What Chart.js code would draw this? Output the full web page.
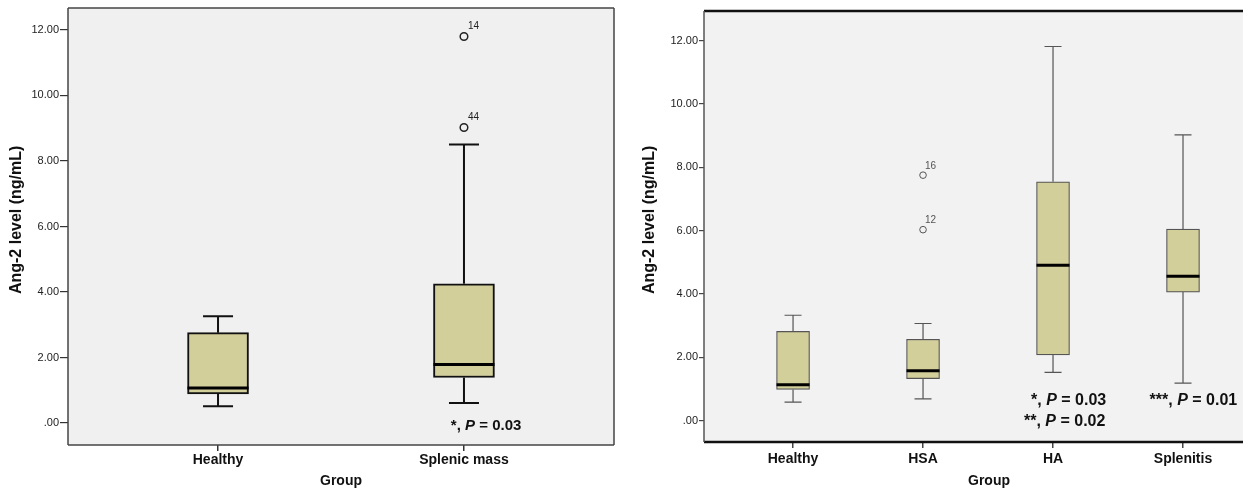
<!DOCTYPE html>
<html>
<head>
<meta charset="utf-8">
<script src="https://cdn.jsdelivr.net/npm/chart.js@4.4.0/dist/chart.umd.min.js"></script>
<style>
  html, body { margin: 0; padding: 0; background: #fff; overflow: hidden; width: 1243px; height: 492px; }
  canvas { position: absolute; top: 0; }
  #left { left: 0; }
  #right { left: 625px; }
</style>
</head>
<body>
<canvas id="left" width="625" height="492"></canvas>
<canvas id="right" width="660" height="492"></canvas>
<script>
/* global Chart */

// ---- data ----
var yTicks = [0, 2, 4, 6, 8, 10, 12];

var leftGroups = ["Healthy", "Splenic mass"];
var leftMin = [0.51, 0.61];
var leftQ1 = [0.89, 1.39];
var leftMedian = [1.07, 1.79];
var leftQ3 = [2.76, 4.25];
var leftMax = [3.26, 8.50];
var leftOutlierGroup = [2, 2];
var leftOutlierValue = [11.80, 9.02];
var leftOutlierLabel = ["14", "44"];

var rightGroups = ["Healthy", "HSA", "HA", "Splenitis"];
var rightMin = [0.59, 0.69, 1.53, 1.19];
var rightQ1 = [0.99, 1.33, 2.08, 4.06];
var rightMedian = [1.14, 1.58, 4.91, 4.56];
var rightQ3 = [2.82, 2.57, 7.54, 6.05];
var rightMax = [3.33, 3.07, 11.81, 9.02];
var rightOutlierGroup = [2, 2];
var rightOutlierValue = [7.75, 6.03];
var rightOutlierLabel = ["16", "12"];

var leftStars = ["*"];
var leftP = ["0.03"];
var rightStars = ["*", "**", "***"];
var rightP = ["0.03", "0.02", "0.01"];

var FONT = "'Liberation Sans', Arial, Helvetica, sans-serif";
var BOX_FILL = "#d3cf9b";

function fmtTick(v) {
  return v === 0 ? ".00" : Number(v).toFixed(2);
}

function makeExtras(p) {
  return {
    id: "boxExtras",
    beforeDraw: function (chart) {
      var a = chart.chartArea, ctx = chart.ctx;
      ctx.save();
      ctx.fillStyle = p.bg;
      ctx.fillRect(a.left, a.top, a.right - a.left, a.bottom - a.top);
      ctx.restore();
    },
    beforeDatasetsDraw: function (chart) {
      var ctx = chart.ctx, xs = chart.scales.x, ys = chart.scales.y;
      ctx.save();
      ctx.strokeStyle = p.line;
      ctx.lineWidth = p.lineW;
      for (var i = 0; i < p.groups.length; i++) {
        var cx = xs.getPixelForValue(i + 1);
        var pairs = [[p.max[i], p.q3[i]], [p.min[i], p.q1[i]]];
        for (var k = 0; k < 2; k++) {
          var yEnd = ys.getPixelForValue(pairs[k][0]);
          var yBox = ys.getPixelForValue(pairs[k][1]);
          ctx.beginPath();
          ctx.moveTo(cx, yBox);
          ctx.lineTo(cx, yEnd);
          ctx.moveTo(cx - p.capW / 2, yEnd);
          ctx.lineTo(cx + p.capW / 2, yEnd);
          ctx.stroke();
        }
      }
      ctx.restore();
    },
    afterDatasetsDraw: function (chart) {
      var ctx = chart.ctx, xs = chart.scales.x, ys = chart.scales.y;
      ctx.save();
      // medians
      ctx.strokeStyle = "#000";
      ctx.lineWidth = 3;
      for (var i = 0; i < p.groups.length; i++) {
        var cx = xs.getPixelForValue(i + 1);
        var my = ys.getPixelForValue(p.median[i]);
        ctx.beginPath();
        ctx.moveTo(cx - p.boxW / 2, my);
        ctx.lineTo(cx + p.boxW / 2, my);
        ctx.stroke();
      }
      // outlier case numbers
      ctx.fillStyle = p.outColor;
      ctx.font = "10px " + FONT;
      ctx.textAlign = "left";
      ctx.textBaseline = "middle";
      for (var j = 0; j < p.outG.length; j++) {
        var ox = xs.getPixelForValue(p.outG[j]);
        var oy = ys.getPixelForValue(p.outV[j]);
        ctx.fillText(p.outL[j], ox + p.labDx, oy + p.labDy);
      }
      // significance notes
      ctx.fillStyle = "#111";
      for (var n = 0; n < p.notes.length; n++) {
        var nt = p.notes[n];
        var segs = [
          { t: p.stars[n] + ", ", f: "bold " + p.noteSize + "px " + FONT },
          { t: "P", f: "italic bold " + p.noteSize + "px " + FONT },
          { t: " = " + p.pv[n], f: "bold " + p.noteSize + "px " + FONT }
        ];
        var total = 0;
        segs.forEach(function (s) { ctx.font = s.f; s.w = ctx.measureText(s.t).width; total += s.w; });
        var sx = xs.getPixelForValue(nt.x) - total / 2;
        var sy = ys.getPixelForValue(nt.y);
        segs.forEach(function (s) {
          ctx.font = s.f;
          ctx.fillText(s.t, sx, sy);
          sx += s.w;
        });
      }
      ctx.restore();
    },
    afterDraw: function (chart) {
      var a = chart.chartArea, ctx = chart.ctx;
      ctx.save();
      p.frame.forEach(function (f) {
        ctx.strokeStyle = f.c;
        ctx.lineWidth = f.w;
        ctx.beginPath();
        if (f.side === "top") { ctx.moveTo(a.left, a.top); ctx.lineTo(a.right, a.top); }
        if (f.side === "bottom") { ctx.moveTo(a.left, a.bottom); ctx.lineTo(a.right, a.bottom); }
        if (f.side === "left") { ctx.moveTo(a.left, a.top); ctx.lineTo(a.left, a.bottom); }
        if (f.side === "right") { ctx.moveTo(a.right, a.top); ctx.lineTo(a.right, a.bottom); }
        ctx.stroke();
      });
      ctx.restore();
    }
  };
}

function makePanel(id, p) {
  var boxes = p.groups.map(function (g, i) { return { x: i + 1, y: [p.q1[i], p.q3[i]] }; });
  var outliers = p.outG.map(function (g, i) { return { x: g, y: p.outV[i] }; });
  // eslint-disable-next-line no-new
  new Chart(document.getElementById(id), {
    type: "bar",
    data: {
      datasets: [
        {
          type: "bar",
          data: boxes,
          backgroundColor: BOX_FILL,
          borderColor: p.line,
          borderWidth: p.lineW,
          borderSkipped: false,
          barThickness: p.boxW
        },
        {
          type: "scatter",
          data: outliers,
          pointStyle: "circle",
          pointRadius: p.outR,
          borderColor: p.outColor,
          borderWidth: p.outW,
          backgroundColor: "rgba(0,0,0,0)"
        }
      ]
    },
    options: {
      responsive: false,
      animation: false,
      events: [],
      devicePixelRatio: 1,
      layout: { padding: { left: 0, right: p.padRight, top: p.padTop, bottom: 0 } },
      plugins: { legend: { display: false }, tooltip: { enabled: false } },
      scales: {
        x: {
          type: "linear",
          offset: false,
          min: p.xMin,
          max: p.xMax,
          afterBuildTicks: function (s) { s.ticks = p.groups.map(function (g, i) { return { value: i + 1 }; }); },
          afterFit: function (s) { s.height = p.xAxisH; s.paddingLeft = 0; s.paddingRight = 0; },
          border: { display: false },
          grid: { offset: false, drawOnChartArea: false, drawTicks: true, tickLength: 6, color: p.tickColor, lineWidth: 1.5 },
          ticks: {
            autoSkip: false, maxRotation: 0, padding: p.xLabPad, color: "#111",
            font: { family: FONT, size: 14, weight: "bold" },
            callback: function (v) { return p.groups[v - 1]; }
          },
          title: {
            display: true, text: "Group", color: "#111",
            font: { family: FONT, size: 14, weight: "bold" },
            padding: { top: 0, bottom: 2 }
          }
        },
        y: {
          min: p.yMin,
          max: p.yMax,
          afterBuildTicks: function (s) { s.ticks = yTicks.map(function (v) { return { value: v }; }); },
          afterFit: function (s) { s.width = p.yAxisW; s.paddingTop = 0; s.paddingBottom = 0; },
          border: { display: false },
          grid: { drawOnChartArea: false, drawTicks: true, tickLength: p.yTickLen, color: p.tickColor, lineWidth: 1.2 },
          ticks: {
            padding: 1, color: "#222",
            font: { family: FONT, size: 11 },
            callback: fmtTick
          },
          title: {
            display: true, text: "   Ang-2 level (ng/mL)", color: "#111",
            font: { family: FONT, size: 16, weight: "bold" },
            padding: { top: p.yTitlePad, bottom: 0 }
          }
        }
      }
    },
    plugins: [makeExtras(p)]
  });
}

window.addEventListener("DOMContentLoaded", function () {
  makePanel("left", {
    groups: leftGroups, min: leftMin, q1: leftQ1, median: leftMedian, q3: leftQ3, max: leftMax,
    outG: leftOutlierGroup, outV: leftOutlierValue, outL: leftOutlierLabel,
    stars: leftStars, pv: leftP, notes: [{ x: 2.09, y: -0.08 }], noteSize: 15,
    xMin: 0.39, xMax: 2.61, yMin: -0.67, yMax: 12.67,
    padTop: 8, padRight: 11, xAxisH: 47, yAxisW: 68, yTickLen: 8, yTitlePad: 7, xLabPad: 1,
    bg: "#f0f0f0", line: "#111", lineW: 2, boxW: 61, capW: 30,
    outR: 3.8, outW: 1.5, outColor: "#222", labDx: 4, labDy: -10,
    tickColor: "#333",
    frame: [
      { side: "top", c: "#444", w: 1.5 }, { side: "bottom", c: "#444", w: 1.5 },
      { side: "left", c: "#444", w: 1.5 }, { side: "right", c: "#444", w: 1.5 }
    ]
  });
  makePanel("right", {
    groups: rightGroups, min: rightMin, q1: rightQ1, median: rightMedian, q3: rightQ3, max: rightMax,
    outG: rightOutlierGroup, outV: rightOutlierValue, outL: rightOutlierLabel,
    stars: rightStars, pv: rightP, notes: [{ x: 3.12, y: 0.64 }, { x: 3.09, y: -0.03 }, { x: 4.08, y: 0.64 }], noteSize: 16,
    xMin: 0.315, xMax: 4.70, yMin: -0.67, yMax: 12.93,
    padTop: 11, padRight: 11, xAxisH: 50, yAxisW: 79, yTickLen: 5, yTitlePad: 15, xLabPad: 3,
    bg: "#f2f2f2", line: "#555", lineW: 1.2, boxW: 33, capW: 17,
    outR: 3.3, outW: 1, outColor: "#555", labDx: 2, labDy: -9,
    tickColor: "#444",
    frame: [
      { side: "top", c: "#111", w: 2.5 }, { side: "bottom", c: "#111", w: 2.5 },
      { side: "left", c: "#555", w: 1.5 }
    ]
  });
});
</script>
</body>
</html>
